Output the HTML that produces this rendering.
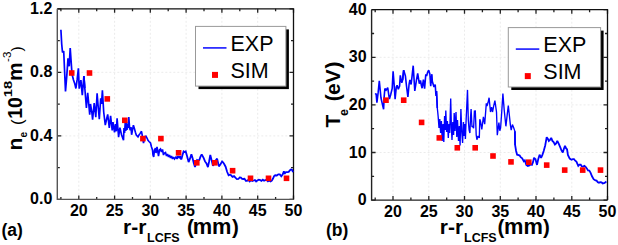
<!DOCTYPE html>
<html><head><meta charset="utf-8"><style>
html,body{margin:0;padding:0;background:#fff;}
svg{display:block;font-family:"Liberation Sans",sans-serif;}
</style></head><body>
<svg width="618" height="245" viewBox="0 0 618 245">
<g stroke="#ebebeb" stroke-width="1" stroke-dasharray="2,2"><line x1="78.8" y1="8.8" x2="78.8" y2="199.4"/><line x1="114.6" y1="8.8" x2="114.6" y2="199.4"/><line x1="150.3" y1="8.8" x2="150.3" y2="199.4"/><line x1="186.1" y1="8.8" x2="186.1" y2="199.4"/><line x1="221.9" y1="8.8" x2="221.9" y2="199.4"/><line x1="257.7" y1="8.8" x2="257.7" y2="199.4"/><line x1="57.3" y1="135.9" x2="293.5" y2="135.9"/><line x1="57.3" y1="72.3" x2="293.5" y2="72.3"/></g><path d="M78.8 199.4v-4M78.8 8.8v4M114.6 199.4v-4M114.6 8.8v4M150.3 199.4v-4M150.3 8.8v4M186.1 199.4v-4M186.1 8.8v4M221.9 199.4v-4M221.9 8.8v4M257.7 199.4v-4M257.7 8.8v4M293.5 199.4v-4M293.5 8.8v4M60.9 199.4v-2.5M60.9 8.8v2.5M96.7 199.4v-2.5M96.7 8.8v2.5M132.5 199.4v-2.5M132.5 8.8v2.5M168.2 199.4v-2.5M168.2 8.8v2.5M204.0 199.4v-2.5M204.0 8.8v2.5M239.8 199.4v-2.5M239.8 8.8v2.5M275.6 199.4v-2.5M275.6 8.8v2.5M57.3 199.4h4M293.5 199.4h-4M57.3 135.9h4M293.5 135.9h-4M57.3 72.3h4M293.5 72.3h-4M57.3 8.8h4M293.5 8.8h-4M57.3 167.6h2.5M293.5 167.6h-2.5M57.3 104.1h2.5M293.5 104.1h-2.5M57.3 40.6h2.5M293.5 40.6h-2.5" stroke="#222" stroke-width="1.3" fill="none"/><path d="M57.3 8.8H293.5V199.4" stroke="#111" stroke-width="1.3" fill="none"/><path d="M57.3 8.8V199.4H293.5" stroke="#555" stroke-width="1.4" fill="none"/><g font-size="16" font-weight="bold" text-anchor="middle"><text x="78.8" y="216.0">20</text><text x="114.6" y="216.0">25</text><text x="150.3" y="216.0">30</text><text x="186.1" y="216.0">35</text><text x="221.9" y="216.0">40</text><text x="257.7" y="216.0">45</text><text x="293.5" y="216.0">50</text></g><g font-size="16" font-weight="bold" text-anchor="end"><text x="52.3" y="204.4">0.0</text><text x="52.3" y="140.9">0.4</text><text x="52.3" y="77.3">0.8</text><text x="52.3" y="13.8">1.2</text></g>
<g stroke="#ebebeb" stroke-width="1" stroke-dasharray="2,2"><line x1="393.0" y1="9.7" x2="393.0" y2="200.1"/><line x1="428.8" y1="9.7" x2="428.8" y2="200.1"/><line x1="464.5" y1="9.7" x2="464.5" y2="200.1"/><line x1="500.3" y1="9.7" x2="500.3" y2="200.1"/><line x1="536.0" y1="9.7" x2="536.0" y2="200.1"/><line x1="571.8" y1="9.7" x2="571.8" y2="200.1"/><line x1="371.6" y1="152.5" x2="607.5" y2="152.5"/><line x1="371.6" y1="104.9" x2="607.5" y2="104.9"/><line x1="371.6" y1="57.3" x2="607.5" y2="57.3"/></g><path d="M393.0 200.1v-4M393.0 9.7v4M428.8 200.1v-4M428.8 9.7v4M464.5 200.1v-4M464.5 9.7v4M500.3 200.1v-4M500.3 9.7v4M536.0 200.1v-4M536.0 9.7v4M571.8 200.1v-4M571.8 9.7v4M607.5 200.1v-4M607.5 9.7v4M375.2 200.1v-2.5M375.2 9.7v2.5M410.9 200.1v-2.5M410.9 9.7v2.5M446.7 200.1v-2.5M446.7 9.7v2.5M482.4 200.1v-2.5M482.4 9.7v2.5M518.1 200.1v-2.5M518.1 9.7v2.5M553.9 200.1v-2.5M553.9 9.7v2.5M589.6 200.1v-2.5M589.6 9.7v2.5M371.6 200.1h4M607.5 200.1h-4M371.6 152.5h4M607.5 152.5h-4M371.6 104.9h4M607.5 104.9h-4M371.6 57.3h4M607.5 57.3h-4M371.6 9.7h4M607.5 9.7h-4M371.6 176.3h2.5M607.5 176.3h-2.5M371.6 128.7h2.5M607.5 128.7h-2.5M371.6 81.1h2.5M607.5 81.1h-2.5M371.6 33.5h2.5M607.5 33.5h-2.5" stroke="#222" stroke-width="1.3" fill="none"/><path d="M371.6 9.7H607.5V200.1" stroke="#111" stroke-width="1.3" fill="none"/><path d="M371.6 9.7V200.1H607.5" stroke="#222" stroke-width="1.4" fill="none"/><g font-size="16" font-weight="bold" text-anchor="middle"><text x="393.0" y="217.2">20</text><text x="428.8" y="217.2">25</text><text x="464.5" y="217.2">30</text><text x="500.3" y="217.2">35</text><text x="536.0" y="217.2">40</text><text x="571.8" y="217.2">45</text><text x="607.5" y="217.2">50</text></g><g font-size="16" font-weight="bold" text-anchor="end"><text x="366.6" y="205.1">0</text><text x="366.6" y="157.5">10</text><text x="366.6" y="109.9">20</text><text x="366.6" y="62.3">30</text><text x="366.6" y="14.7">40</text></g>
<polyline points="60.9,29.7 61.7,44.0 62.5,52.5 63.7,51.0 65.5,91.5 66.8,75.6 68.0,58.4 69.2,66.3 70.2,48.0 72.0,74.0 73.5,80.0 74.7,83.4 75.9,88.5 77.2,79.2 78.4,68.4 79.2,88.6 80.9,80.2 82.3,95.2 83.9,76.0 84.8,88.0" fill="none" stroke="#0000ff" stroke-width="1.70" stroke-linejoin="miter" stroke-miterlimit="2"/><polyline points="83.9,76.0 84.8,88.0 86.4,108.0 87.7,92.9 88.7,103.4 89.7,114.8 90.5,104.0 91.8,112.0 92.6,119.7 94.2,103.1 95.8,117.2 97.1,93.3 98.2,106.8 99.3,119.3 100.7,98.2 101.5,104.0 102.4,90.4 103.7,112.0 105.3,125.2 106.4,120.0 107.7,114.4 109.3,128.0 110.6,115.8 112.2,130.5 113.0,122.0 114.5,132.3 115.5,124.0 116.3,131.3 117.1,118.3 118.6,137.2 119.9,127.7 121.6,135.0 123.5,140.1 124.0,128.0 124.6,133.0 125.2,123.0 125.8,131.0 126.4,122.0 127.0,130.0 127.6,124.0 128.2,128.0 128.8,117.0 129.6,128.0 130.3,130.3 131.0,127.0 131.6,134.8 133.4,125.2 134.4,128.5 135.4,132.3 136.3,135.0 138.0,136.9 139.0,135.0 140.2,133.4 141.5,131.3 142.6,137.4 143.5,143.0 145.0,136.5 146.0,136.2 147.0,138.0 148.0,140.4 149.0,141.5 150.5,143.0 151.5,147.0 152.5,150.0 153.0,155.0 153.7,157.0 154.5,150.0 155.5,148.0 156.0,153.0 157.0,147.0 157.8,151.5 158.5,156.0 159.5,150.0 160.5,149.0 161.5,152.0 162.5,149.5 163.5,155.0 164.5,153.0 165.5,152.5 166.5,156.0 167.5,154.0 168.5,157.0 169.5,155.0 170.5,158.0 171.5,156.0 172.5,159.0 173.5,157.0 174.5,159.0 176.0,157.0 177.0,159.0 178.0,156.0 179.0,158.0 180.0,156.4 181.4,159.3" fill="none" stroke="#0000ff" stroke-width="1.65" stroke-linejoin="miter" stroke-miterlimit="2"/><polyline points="179.0,158.0 180.0,156.4 181.4,159.3 182.5,155.0 183.6,151.4 184.6,152.0 185.7,151.4 187.1,156.3 188.6,162.1 190.0,158.7 191.4,154.3 192.6,158.2 193.8,163.3 195.0,167.1 196.1,163.3 197.1,160.0 198.2,160.5 199.3,160.0 200.5,156.6 201.7,154.3 203.6,157.9 205.0,161.4 206.5,163.5 207.9,167.1 209.1,161.5 210.3,155.0 211.6,160.1 212.9,165.7 214.3,163.8 215.7,160.5 217.1,158.6 218.9,166.4 220.5,164.2 222.1,161.4 223.2,162.6 224.3,164.3 225.6,166.7 227.1,171.8 228.6,175.3 229.8,174.7 231.1,175.3 232.5,176.8 234.0,176.1 235.4,177.7 236.9,179.1 238.4,179.0 239.7,177.5 240.9,177.7 242.1,178.9 243.3,179.0 244.5,178.8 245.8,180.8 247.0,180.8 248.3,179.9 249.7,181.5 251.0,180.2 252.4,181.0 253.7,180.5 254.9,180.0 256.1,181.4 257.3,180.5 258.8,179.7 260.3,180.1 261.5,180.8 262.8,179.6 264.0,180.7 265.2,180.1 266.6,179.9 267.9,181.3 269.2,180.4 270.6,181.4 271.8,180.6 273.0,178.5 274.1,176.1 275.2,175.3 276.8,175.5 278.3,174.3 279.8,174.4 281.3,176.3 282.6,174.6 283.9,171.2 284.4,173.8 285.9,172.1 287.4,172.2 288.7,171.9 290.0,170.2 291.0,169.5 292.0,169.7 293.0,172.2" fill="none" stroke="#0000ff" stroke-width="1.80" stroke-linejoin="miter" stroke-miterlimit="2"/>
<polyline points="375.2,94.5 376.1,93.5 376.9,102.6 378.1,92.9 379.3,80.9 381.0,98.0 382.6,105.1 383.6,109.2 384.2,96.1 384.9,88.5 386.1,90.1 387.7,87.7 389.4,99.1 390.6,95.0 392.2,88.5 393.1,71.4 394.1,84.0 395.1,99.1 396.3,86.9 397.1,85.3 398.3,89.3 399.6,86.1 400.3,75.4 401.8,82.9 402.6,80.0 403.7,70.1" fill="none" stroke="#0000ff" stroke-width="1.60" stroke-linejoin="miter" stroke-miterlimit="2"/><polyline points="402.6,80.0 403.7,70.1 405.4,76.0 406.5,86.0 407.9,97.0 409.1,84.0 409.9,80.0 411.1,84.5 412.1,75.8 413.2,65.7 414.8,91.0 416.4,80.4 417.7,73.4 419.3,83.7 420.5,80.4 421.3,85.0 422.1,88.2 423.4,79.6 424.6,88.6 425.8,74.2 426.6,76.0 427.6,72.3 428.7,70.2 429.9,74.2 430.7,86.2 431.9,74.2 432.3,81.3 434.0,87.0 435.2,84.5 436.0,96.0 436.5,91.0 437.3,108.0" fill="none" stroke="#0000ff" stroke-width="1.60" stroke-linejoin="miter" stroke-miterlimit="2"/><polyline points="436.5,91.0 437.3,108.0 437.7,111.8 438.2,117.0 439.0,128.0 439.8,119.0 440.6,133.0 441.4,121.0 442.2,141.0 443.0,124.0 443.8,142.0 444.6,116.0 445.3,130.0 445.8,110.5 446.6,132.0 447.4,121.0 448.3,138.0 449.0,124.0 449.7,133.0 450.7,98.5 451.4,128.0 452.0,140.0 452.8,122.0 453.6,135.0 454.2,113.0 455.0,131.0 456.0,112.0 456.8,137.0 457.5,120.0 458.5,141.0 459.3,126.0 460.1,145.5 460.9,109.0 461.7,131.0 462.6,143.0 463.4,122.0 464.0,136.0 464.6,124.0 465.4,139.0 466.2,118.0 466.7,108.0 467.5,89.9 468.3,120.0 469.1,130.0 469.9,133.0 470.5,118.0 471.1,109.0 472.0,127.0 472.8,126.0 473.6,128.3 474.4,111.2 475.3,111.1 476.2,135.0 476.9,139.7 478.0,136.0 479.3,138.0 479.8,119.3 480.6,121.8 481.8,129.3 483.4,116.9 484.7,124.2 486.3,103.4 487.0,106.0 488.1,102.3 489.1,97.7 490.5,112.0 491.6,107.1 492.5,112.0 493.7,105.8 494.9,100.6 496.5,112.0 497.3,135.2 498.9,122.6 499.8,130.7 500.6,128.0 501.8,111.0 502.9,93.6 504.2,110.0 505.9,126.3 507.1,115.6 508.3,105.5 509.4,115.8 510.4,125.1 511.2,130.1 512.4,124.6 513.6,127.6 514.9,131.3 515.1,145.0" fill="none" stroke="#0000ff" stroke-width="1.35" stroke-linejoin="miter" stroke-miterlimit="2"/><polyline points="514.9,131.3 515.1,145.0 516.1,151.0 517.1,154.7 518.7,155.2 519.7,155.6 520.7,157.2 522.2,158.3 523.8,161.3 524.8,160.3 526.3,164.9 527.8,166.0 529.4,165.4 530.6,164.5 531.9,164.9 533.0,162.2 534.0,157.8 535.5,159.3 537.0,164.9 538.3,158.9 539.6,154.7 541.1,157.8 542.4,154.9 543.7,151.1 545.2,145.5 546.7,137.2 547.8,138.7 548.8,140.9 550.0,139.8 551.2,137.9 552.4,140.9 553.6,142.1 554.9,144.6 556.1,143.4 557.3,140.9 558.8,143.9 560.4,147.6 561.6,150.7 562.8,152.5 563.9,148.8 565.0,145.8 566.0,148.2 567.1,149.5 567.9,154.9 569.7,158.6 571.5,159.8 572.8,159.2 574.0,159.2 575.2,160.7 576.4,161.6 578.3,165.9 579.5,164.7 580.7,164.7 581.9,166.5 583.1,166.6 584.4,165.9 585.6,166.8 586.8,168.4 588.0,170.5 589.3,170.6 590.5,172.6 592.0,176.3 593.6,179.2 595.4,180.4 596.6,180.6 597.8,182.2 599.0,182.7 600.3,182.2 601.5,182.3 602.7,183.5 604.6,182.9 606.4,181.6" fill="none" stroke="#0000ff" stroke-width="1.80" stroke-linejoin="miter" stroke-miterlimit="2"/>
<g fill="#ff0000"><rect x="68.9" y="70.2" width="5.6" height="5.6"/><rect x="86.7" y="70.2" width="5.6" height="5.6"/><rect x="104.5" y="96.1" width="5.6" height="5.6"/><rect x="122.0" y="117.5" width="5.6" height="5.6"/><rect x="140.1" y="135.8" width="5.6" height="5.6"/><rect x="158.1" y="135.8" width="5.6" height="5.6"/><rect x="175.8" y="150.0" width="5.6" height="5.6"/><rect x="194.0" y="160.0" width="5.6" height="5.6"/><rect x="212.0" y="160.0" width="5.6" height="5.6"/><rect x="229.8" y="167.9" width="5.6" height="5.6"/><rect x="247.7" y="175.5" width="5.6" height="5.6"/><rect x="265.7" y="175.5" width="5.6" height="5.6"/><rect x="283.7" y="175.5" width="5.6" height="5.6"/><rect x="383.2" y="97.4" width="5.6" height="5.6"/><rect x="400.9" y="97.4" width="5.6" height="5.6"/><rect x="418.8" y="119.6" width="5.6" height="5.6"/><rect x="436.5" y="135.1" width="5.6" height="5.6"/><rect x="454.5" y="145.0" width="5.6" height="5.6"/><rect x="472.4" y="145.0" width="5.6" height="5.6"/><rect x="490.2" y="153.2" width="5.6" height="5.6"/><rect x="508.2" y="159.1" width="5.6" height="5.6"/><rect x="526.0" y="159.4" width="5.6" height="5.6"/><rect x="543.9" y="162.3" width="5.6" height="5.6"/><rect x="561.9" y="167.3" width="5.6" height="5.6"/><rect x="579.9" y="167.3" width="5.6" height="5.6"/><rect x="597.7" y="167.3" width="5.6" height="5.6"/></g>
<rect x="198.5" y="29.4" width="90.4" height="59.7" fill="#000"/><rect x="195.5" y="26.4" width="90.4" height="59.7" fill="#fff" stroke="#999" stroke-width="1"/><line x1="203.0" y1="47.9" x2="226.5" y2="47.9" stroke="#3030ff" stroke-width="1.8"/><rect x="212.0" y="71.9" width="6" height="6" fill="#f00"/><text x="230.5" y="51.1" font-size="21.5">EXP</text><text x="230.5" y="77.7" font-size="21.5">SIM</text>
<rect x="511.3" y="30.6" width="92.3" height="59.4" fill="#000"/><rect x="508.3" y="27.6" width="92.3" height="59.4" fill="#fff" stroke="#999" stroke-width="1"/><line x1="515.8" y1="49.1" x2="539.3" y2="49.1" stroke="#3030ff" stroke-width="1.8"/><rect x="524.8" y="73.1" width="6" height="6" fill="#f00"/><text x="543.3" y="52.3" font-size="21.5">EXP</text><text x="543.3" y="78.9" font-size="21.5">SIM</text>
<text x="123.0" y="233.8" font-size="21" font-weight="bold">r-r</text><text x="147.0" y="241.8" font-size="12.5" font-weight="bold">LCFS</text><text x="187.0" y="234" font-size="20.5" font-weight="bold">(</text><text x="192.7" y="233.8" font-size="21.8" font-weight="bold">mm</text><text x="232.1" y="234" font-size="20.5" font-weight="bold">)</text>
<text x="439.8" y="233.8" font-size="21" font-weight="bold">r-r</text><text x="464.0" y="241.8" font-size="12.5" font-weight="bold">LCFS</text><text x="497.6" y="234" font-size="20.5" font-weight="bold">(</text><text x="504.0" y="233.8" font-size="21.8" font-weight="bold">mm</text><text x="543.0" y="234" font-size="20.5" font-weight="bold">)</text>
<text x="1.5" y="236" font-size="17.5" font-weight="bold">(a)</text>
<text x="326" y="236" font-size="17.5" font-weight="bold">(b)</text>
<text transform="translate(22.0,150.5) rotate(-90)" font-size="21.0" font-weight="bold">n</text>
<text transform="translate(26.8,137.5) rotate(-90)" font-size="10.0" font-weight="bold">e</text>
<text transform="translate(22.8,125.0) rotate(-90)" font-size="16.5">(</text>
<text transform="translate(22.0,118.8) rotate(-90)" font-size="21.0" font-weight="bold" textLength="21.6" lengthAdjust="spacingAndGlyphs">10</text>
<text transform="translate(12.2,97.2) rotate(-90)" font-size="11.5" font-weight="bold" textLength="16.5" lengthAdjust="spacingAndGlyphs">18</text>
<text transform="translate(22.0,81.0) rotate(-90)" font-size="21.0" font-weight="bold">m</text>
<text transform="translate(11.2,62.0) rotate(-90)" font-size="11.5">-</text>
<text transform="translate(11.2,58.0) rotate(-90)" font-size="11.5">3</text>
<text transform="translate(22.0,51.5) rotate(-90)" font-size="15.5">)</text>
<text transform="translate(340.3,127.6) rotate(-90)" font-size="21.0" font-weight="bold">T</text>
<text transform="translate(348.0,116.0) rotate(-90)" font-size="12.5" font-weight="bold">e</text>
<text transform="translate(340.3,101.3) rotate(-90)" font-size="21.0" font-weight="bold">(</text>
<text transform="translate(340.3,95.0) rotate(-90)" font-size="21.0" font-weight="bold">eV</text>
<text transform="translate(340.3,68.5) rotate(-90)" font-size="21.0" font-weight="bold">)</text>
</svg>
</body></html>
